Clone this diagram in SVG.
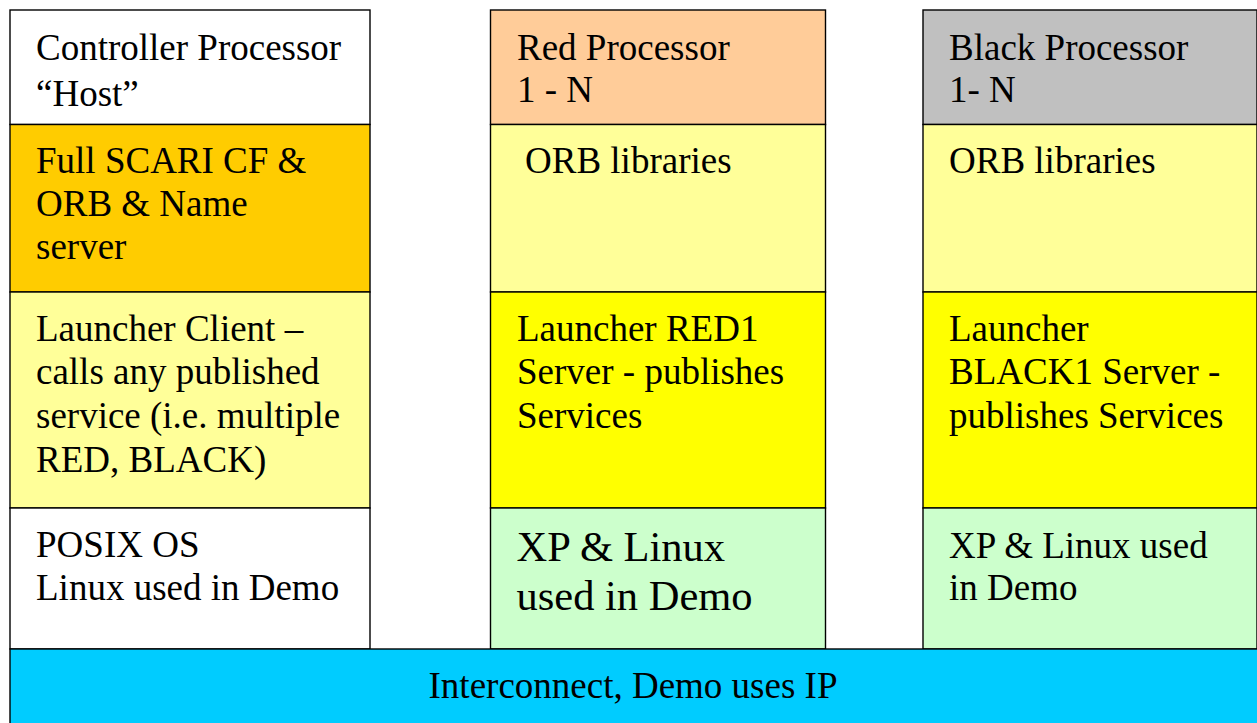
<svg xmlns="http://www.w3.org/2000/svg" width="1257" height="723" viewBox="0 0 1257 723">
  <style>
    .cell { stroke: #000; stroke-width: 1.4; }
    .t { font-family: "Liberation Serif", "Times New Roman", serif; font-size: 37px; fill: #000; }
    .big { font-size: 42.5px; }
    .white { fill: #FFFFFF; }
    .orange { fill: #FFCC00; }
    .pale { fill: #FFFF99; }
    .yellow { fill: #FFFF00; }
    .peach { fill: #FFCC99; }
    .gray { fill: #C0C0C0; }
    .green { fill: #CCFFCC; }
    .cyan { fill: #00CCFF; }
  </style>
  <rect width="1257" height="723" fill="#FFFFFF"/>

  <!-- Controller processor stack -->
  <g id="controller">
    <g id="ctrl-title">
      <rect class="cell white" x="10" y="10" width="360" height="114.5"/>
      <text class="t" x="36" y="60">Controller Processor</text>
      <text class="t" x="36" y="106">“Host”</text>
    </g>
    <g id="ctrl-cf">
      <rect class="cell orange" x="10" y="124.5" width="360" height="167.5"/>
      <text class="t" x="36" y="172.5">Full SCARI CF &amp;</text>
      <text class="t" x="36" y="215.5">ORB &amp; Name</text>
      <text class="t" x="36" y="259">server</text>
    </g>
    <g id="ctrl-launcher">
      <rect class="cell pale" x="10" y="292" width="360" height="216"/>
      <text class="t" x="36" y="341">Launcher Client –</text>
      <text class="t" x="36" y="384">calls any published</text>
      <text class="t" x="36" y="428">service (i.e. multiple</text>
      <text class="t" x="36" y="472">RED, BLACK)</text>
    </g>
    <g id="ctrl-os">
      <rect class="cell white" x="10" y="508" width="360" height="141"/>
      <text class="t" x="36" y="557">POSIX OS</text>
      <text class="t" x="36" y="599.5">Linux used in Demo</text>
    </g>
  </g>

  <!-- Red processor stack -->
  <g id="red">
    <g id="red-title">
      <rect class="cell peach" x="490.5" y="10" width="335" height="114.5"/>
      <text class="t" x="517" y="60">Red Processor</text>
      <text class="t" x="517" y="101.5">1 - N</text>
    </g>
    <g id="red-orb">
      <rect class="cell pale" x="490.5" y="124.5" width="335" height="167.5"/>
      <text class="t" x="525" y="172.5">ORB libraries</text>
    </g>
    <g id="red-launcher">
      <rect class="cell yellow" x="490.5" y="292" width="335" height="216"/>
      <text class="t" x="517" y="341">Launcher RED1</text>
      <text class="t" x="517" y="383.5">Server - publishes</text>
      <text class="t" x="517" y="428">Services</text>
    </g>
    <g id="red-os">
      <rect class="cell green" x="490.5" y="508" width="335" height="141"/>
      <text class="t big" x="516.5" y="561">XP &amp; Linux</text>
      <text class="t big" x="516.5" y="610">used in Demo</text>
    </g>
  </g>

  <!-- Black processor stack -->
  <g id="black">
    <g id="black-title">
      <rect class="cell gray" x="923" y="10" width="334" height="114.5"/>
      <text class="t" x="949" y="60">Black Processor</text>
      <text class="t" x="949" y="101.5">1- N</text>
    </g>
    <g id="black-orb">
      <rect class="cell pale" x="923" y="124.5" width="334" height="167.5"/>
      <text class="t" x="949" y="172.5">ORB libraries</text>
    </g>
    <g id="black-launcher">
      <rect class="cell yellow" x="923" y="292" width="334" height="216"/>
      <text class="t" x="949" y="341">Launcher</text>
      <text class="t" x="949" y="383.5">BLACK1 Server -</text>
      <text class="t" x="949" y="428">publishes Services</text>
    </g>
    <g id="black-os">
      <rect class="cell green" x="923" y="508" width="334" height="141"/>
      <text class="t" x="949" y="557.5">XP &amp; Linux used</text>
      <text class="t" x="949" y="599.5">in Demo</text>
    </g>
  </g>

  <!-- Shared interconnect bar -->
  <g id="interconnect">
    <rect class="cell cyan" x="10" y="649" width="1250" height="80"/>
    <text class="t" x="633" y="697.5" text-anchor="middle">Interconnect, Demo uses IP</text>
  </g>

  <!-- The layers are stacked directly; there are no connectors -->
  <g id="connectors"/>
</svg>
